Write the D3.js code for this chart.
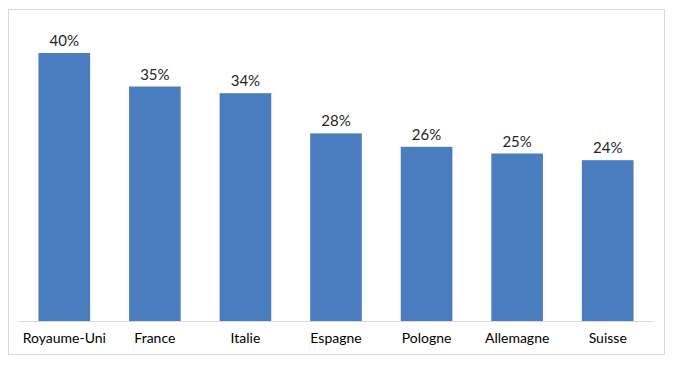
<!DOCTYPE html>
<html><head><meta charset="utf-8">
<script src="https://cdn.jsdelivr.net/npm/d3@7"></script>
<style>body{margin:0;background:#fff}svg{display:block}</style>
</head><body>
<script>
const categories = ["Royaume-Uni","France","Italie","Espagne","Pologne","Allemagne","Suisse"];
const values = [40,35,34,28,26,25,24];
const yMax = 45;

const W = 676, H = 366;
const svg = d3.select("body").append("svg").attr("width", W).attr("height", H);
svg.append("rect").attr("x",8.5).attr("y",9.5).attr("width",656).attr("height",345)
  .attr("fill","#fff").attr("stroke","#d9d9d9").attr("stroke-width",1);

const x = d3.scaleBand().domain(categories).range([19,653]).paddingInner(0.43).paddingOuter(0.215);
const y = d3.scaleLinear().domain([0,yMax]).range([321,19.5]);

svg.selectAll("rect.bar").data(values).join("rect").attr("class","bar")
  .attr("x",(d,i)=>x(categories[i])).attr("width",x.bandwidth())
  .attr("y",d=>y(d)).attr("height",d=>y(0)-y(d)).attr("fill","#4a7cc0");

svg.selectAll("text.val").data(values).join("text").attr("class","val")
  .attr("x",(d,i)=>x(categories[i])+x.bandwidth()/2).attr("y",d=>y(d)-7)
  .attr("text-anchor","middle").attr("font-family","Lato, 'Open Sans', sans-serif")
  .attr("font-size",15).attr("fill","#262626").text(d=>d+"%");

const ax = svg.append("g").attr("transform","translate(0,321)")
  .call(d3.axisBottom(x).tickSize(0).tickPadding(12));
ax.select(".domain").attr("stroke","#d9d9d9").attr("d","M19,0.5H653");
ax.selectAll("text").attr("font-family","Lato, 'Open Sans', sans-serif").attr("font-size",14).attr("fill","#000");
</script>
</body></html>
